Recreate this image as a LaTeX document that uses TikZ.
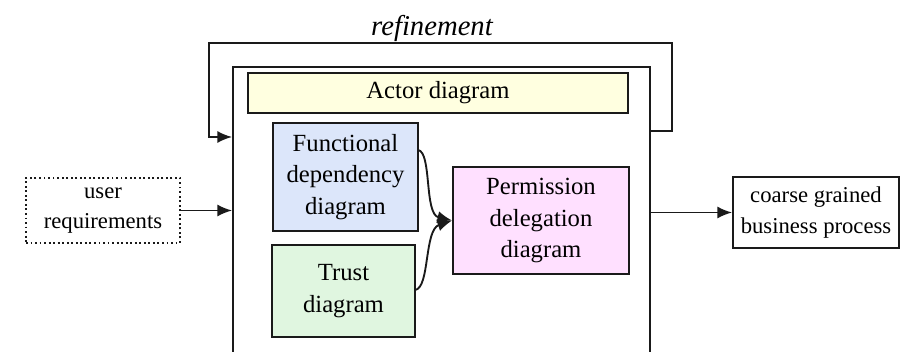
\documentclass[tikz,border=0pt]{standalone}
\usepackage{fontspec}
\setmainfont{Liberation Serif}
\usetikzlibrary{arrows.meta}
\definecolor{actorfill}{HTML}{FFFFE0}
\definecolor{funcfill}{HTML}{DCE6FA}
\definecolor{trustfill}{HTML}{E0F6E0}
\definecolor{permfill}{HTML}{FFE0FF}
\definecolor{edge}{HTML}{1A1A1A}
\tikzset{
  box/.style={draw=edge, line width=1.4pt, rectangle, align=center, inner sep=0pt,
    font=\fontsize{17}{23}\selectfont},
  inner/.style={box, font=\fontsize{18.5}{23.5}\selectfont},
  flow/.style={draw=edge, line width=1.4pt, -{Latex[length=11pt,width=9pt]}},
}
\begin{document}
\begin{tikzpicture}[x=0.75pt, y=-0.75pt]
\clip (0,0) rectangle (900,352);
\fill[white] (0,0) rectangle (900,352);

% main analysis frame (runs past the lower edge)
\node[box, minimum width=417*0.75pt, minimum height=333*0.75pt] (main) at (441.5,233.5) {};

\node[inner, fill=actorfill, minimum width=380*0.75pt, minimum height=40*0.75pt] (actor) at (438,93) {Actor diagram};
\node[inner, fill=funcfill, minimum width=145*0.75pt, minimum height=108*0.75pt] (func) at (345.5,177) {Functional\\dependency\\diagram};
\node[inner, fill=trustfill, minimum width=143*0.75pt, minimum height=92*0.75pt] (trust) at (343.5,291) {Trust\\diagram};
\node[inner, fill=permfill, minimum width=176*0.75pt, minimum height=107*0.75pt] (perm) at (541,220.5) {Permission\\delegation\\diagram};

\node[box, dotted, line width=1.6pt, minimum width=154*0.75pt, minimum height=65*0.75pt] (user) at (103,210.5) {user\\requirements};
\node[box, minimum width=166*0.75pt, minimum height=71*0.75pt] (coarse) at (816,212.5) {coarse grained\\business process};

% refinement loop
\coordinate (rstart) at (650,131);
\coordinate (rright) at (672,43);
\coordinate (rleft) at (209,137);
\draw[flow] (rstart) -- (672,131) -- (rright) -- (209,43) -- (rleft) -- (rleft -| main.west);
\node[font=\itshape\fontsize{21.5}{24}\selectfont] (refine) at (432,28) {refinement};

% inputs and outputs
\draw[flow] (user.east) -- (user.east -| main.west);
\draw[flow] (main.east |- coarse.west) -- (coarse.west);

% merging into permission delegation
\coordinate (tip) at (perm.west);
\draw[flow] (418,150) .. controls (432,152) and (424,214) .. (tip);
\draw[flow] (415,290) .. controls (430,288) and (424,230) .. (tip);
\end{tikzpicture}
\end{document}
